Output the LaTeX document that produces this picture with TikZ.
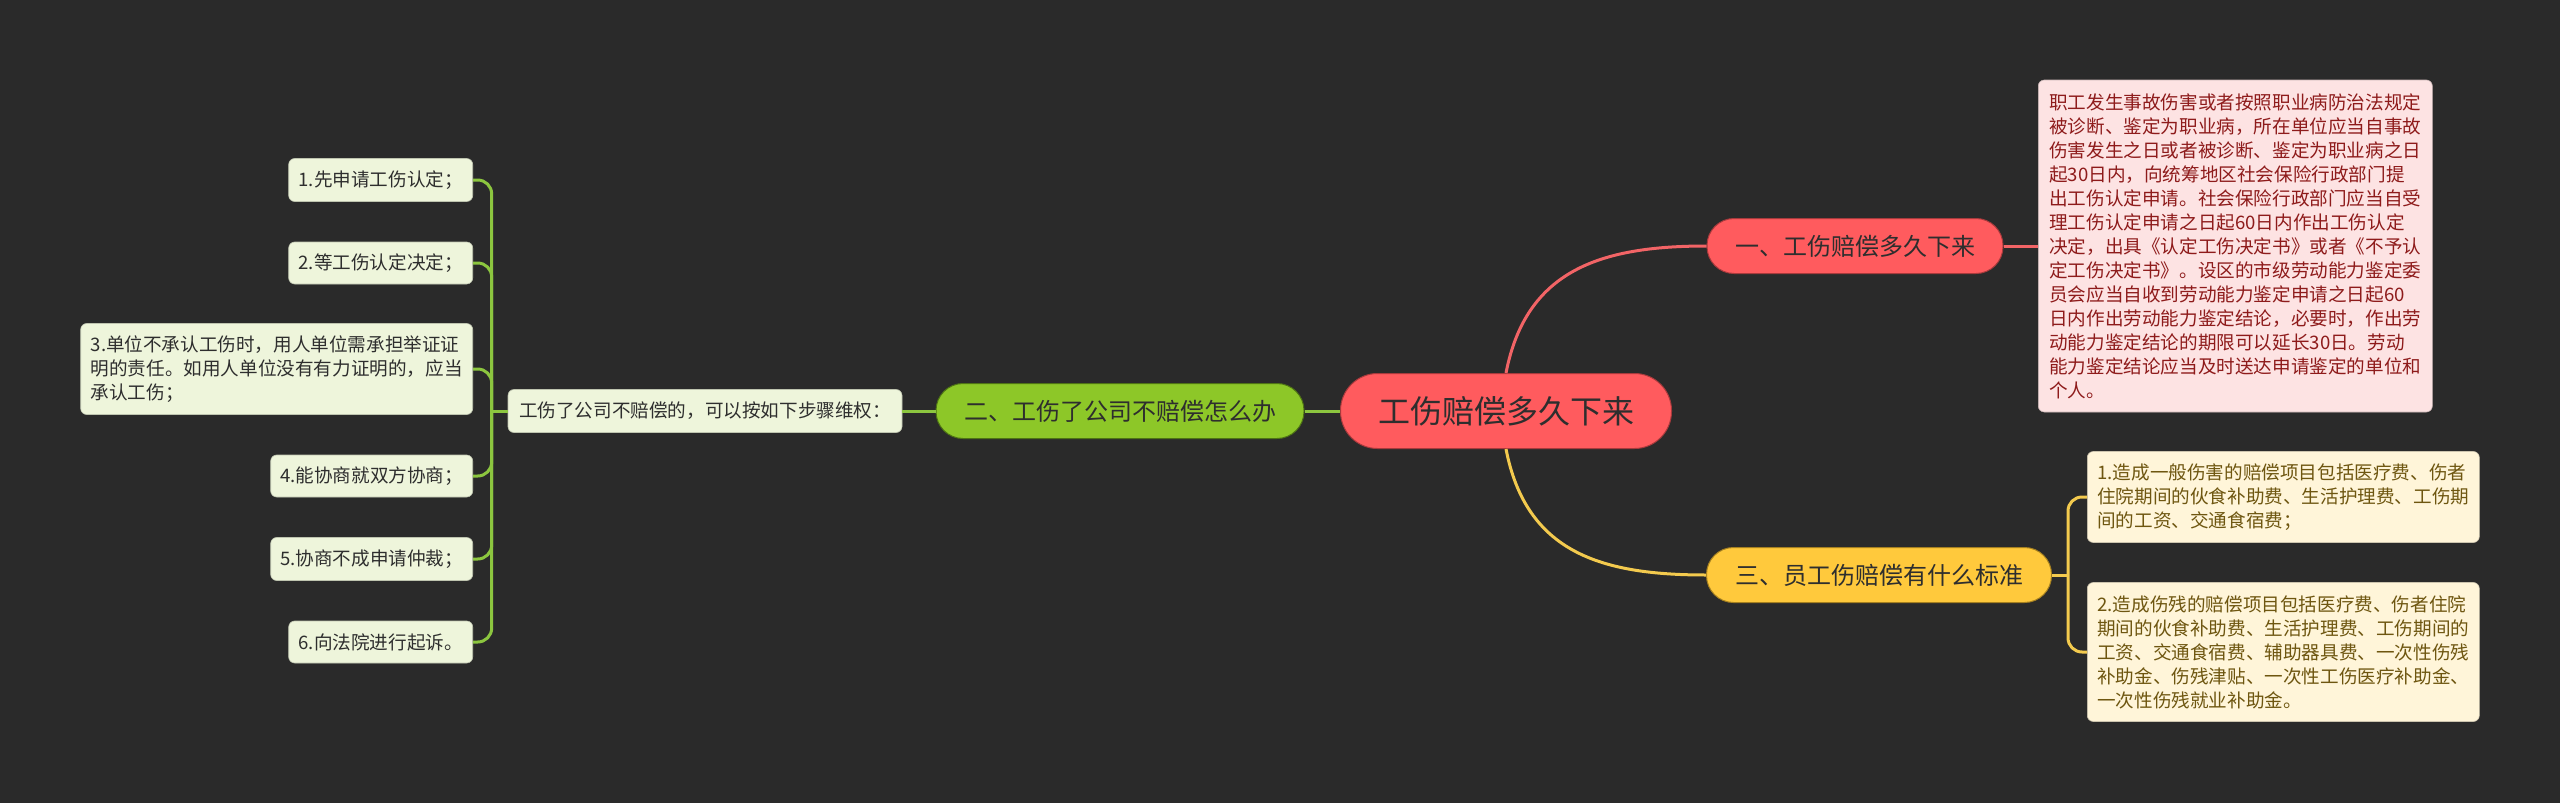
\documentclass[tikz,border=0pt]{standalone}
\usepackage{fontspec}
\setmainfont{Noto Sans CJK SC}
\definecolor{bg}{HTML}{2A2A2A}
\definecolor{redf}{HTML}{FF5B5E}
\definecolor{redl}{HTML}{F26466}
\definecolor{redd}{HTML}{A83A3C}
\definecolor{greenf}{HTML}{8DC728}
\definecolor{greenl}{HTML}{8CC63F}
\definecolor{greend}{HTML}{4E7414}
\definecolor{yelf}{HTML}{FFC93C}
\definecolor{yell}{HTML}{F3CA4E}
\definecolor{yeld}{HTML}{A58020}
\definecolor{pinkf}{HTML}{FDE3E3}
\definecolor{pinkt}{HTML}{8E1B1B}
\definecolor{creamf}{HTML}{FFF5D9}
\definecolor{creamt}{HTML}{6E5610}
\definecolor{lgreenf}{HTML}{EEF5DB}
\definecolor{maint}{HTML}{2E2E2E}
\begin{document}
\begin{tikzpicture}[x=1pt,y=-1pt,
  box/.style={inner sep=0pt, align=center, text=maint},
  mainnode/.style={box, font=\fontsize{24}{28}\selectfont, minimum height=55pt, rounded corners=27pt, line width=1pt},
  small/.style={font=\fontsize{18.6}{24}\selectfont},
  leaf/.style={box, small, fill=lgreenf, draw=lgreenf!80!black, line width=0.6pt, rounded corners=6pt, anchor=east},
  yleaf/.style={box, small, fill=creamf, draw=creamf!80!black, line width=0.6pt, rounded corners=6pt, anchor=west, text=creamt, align=left, minimum width=392pt},
  gline/.style={draw=greenl, line width=3pt},
  rline/.style={draw=redl, line width=3pt},
  yline/.style={draw=yell, line width=3pt}
]
\fill[bg] (0,0) rectangle (2560,803);
\useasboundingbox (0,0) rectangle (2560,803);

% central
\node[box, fill=redf, draw=redd, line width=1pt, minimum width=331pt, minimum height=75pt, rounded corners=37pt,
      font=\fontsize{32}{36}\selectfont] (c) at (1506,411) {工伤赔偿多久下来};

% branch 1
\node[mainnode, fill=redf, draw=redd, minimum width=296pt] (n1) at (1855,246) {一、工伤赔偿多久下来};
\node[box, small, fill=pinkf, draw=pinkf!80!black, line width=0.6pt, rounded corners=6pt, anchor=west,
      minimum width=394pt, minimum height=332pt, text=pinkt, align=left] (p1) at (2038,246)
 {职工发生事故伤害或者按照职业病防治法规定\\
  被诊断、鉴定为职业病，所在单位应当自事故\\
  伤害发生之日或者被诊断、鉴定为职业病之日\\
  起30日内，向统筹地区社会保险行政部门提\\
  出工伤认定申请。社会保险行政部门应当自受\\
  理工伤认定申请之日起60日内作出工伤认定\\
  决定，出具《认定工伤决定书》或者《不予认\\
  定工伤决定书》。设区的市级劳动能力鉴定委\\
  员会应当自收到劳动能力鉴定申请之日起60\\
  日内作出劳动能力鉴定结论，必要时，作出劳\\
  动能力鉴定结论的期限可以延长30日。劳动\\
  能力鉴定结论应当及时送达申请鉴定的单位和\\
  个人。};

% branch 3
\node[mainnode, fill=yelf, draw=yeld, minimum width=345pt] (n3) at (1879,575) {三、员工伤赔偿有什么标准};
\node[yleaf, minimum height=91pt] (y1) at (2087,497)
 {1.造成一般伤害的赔偿项目包括医疗费、伤者\\
  住院期间的伙食补助费、生活护理费、工伤期\\
  间的工资、交通食宿费；};
\node[yleaf, minimum height=139pt] (y2) at (2087,652)
 {2.造成伤残的赔偿项目包括医疗费、伤者住院\\
  期间的伙食补助费、生活护理费、工伤期间的\\
  工资、交通食宿费、辅助器具费、一次性伤残\\
  补助金、伤残津贴、一次性工伤医疗补助金、\\
  一次性伤残就业补助金。};

% branch 2
\node[mainnode, fill=greenf, draw=greend, minimum width=368pt] (n2) at (1120,411) {二、工伤了公司不赔偿怎么办};
\node[box, small, fill=lgreenf, draw=lgreenf!80!black, line width=0.6pt, rounded corners=6pt,
      minimum width=394pt, minimum height=43pt] (g) at (705,411) {工伤了公司不赔偿的，可以按如下步骤维权：};
\node[leaf, minimum width=184pt, minimum height=43pt] (l1) at (473,180) {1.先申请工伤认定；};
\node[leaf, minimum width=184pt, minimum height=42pt] (l2) at (473,263) {2.等工伤认定决定；};
\node[leaf, minimum width=392pt, minimum height=91pt, align=left] (l3) at (473,369)
 {3.单位不承认工伤时，用人单位需承担举证证\\
  明的责任。如用人单位没有有力证明的，应当\\
  承认工伤；};
\node[leaf, minimum width=202pt, minimum height=42pt] (l4) at (473,476) {4.能协商就双方协商；};
\node[leaf, minimum width=202pt, minimum height=43pt] (l5) at (473,559) {5.协商不成申请仲裁；};
\node[leaf, minimum width=184pt, minimum height=42pt] (l6) at (473,642) {6.向法院进行起诉。};

% connectors
\coordinate (gj) at ([xshift=-16pt]g.west);
\coordinate (yj) at ([xshift=16pt]n3.east);

\path[gline] (c.west) -- (n2.east);
\path[gline] (n2.west) -- (g.east);
\path[gline] (g.west) -- (gj);
\foreach \l in {l1,l2,l3,l4,l5,l6}{
  \path[gline, rounded corners=14pt] (gj) -- (gj |- \l.east) -- (\l.east);
}

\path[rline] (c.north) .. controls +(20,-103) and +(-106,0) .. (n1.west);
\path[rline] (n1.east) -- (p1.west);

\path[yline] (c.south) .. controls +(20,103) and +(-106,0) .. (n3.west);
\path[yline] (n3.east) -- (yj);
\path[yline, rounded corners=14pt] (yj) -- (yj |- y1.west) -- (y1.west);
\path[yline, rounded corners=14pt] (yj) -- (yj |- y2.west) -- (y2.west);
\end{tikzpicture}
\end{document}
